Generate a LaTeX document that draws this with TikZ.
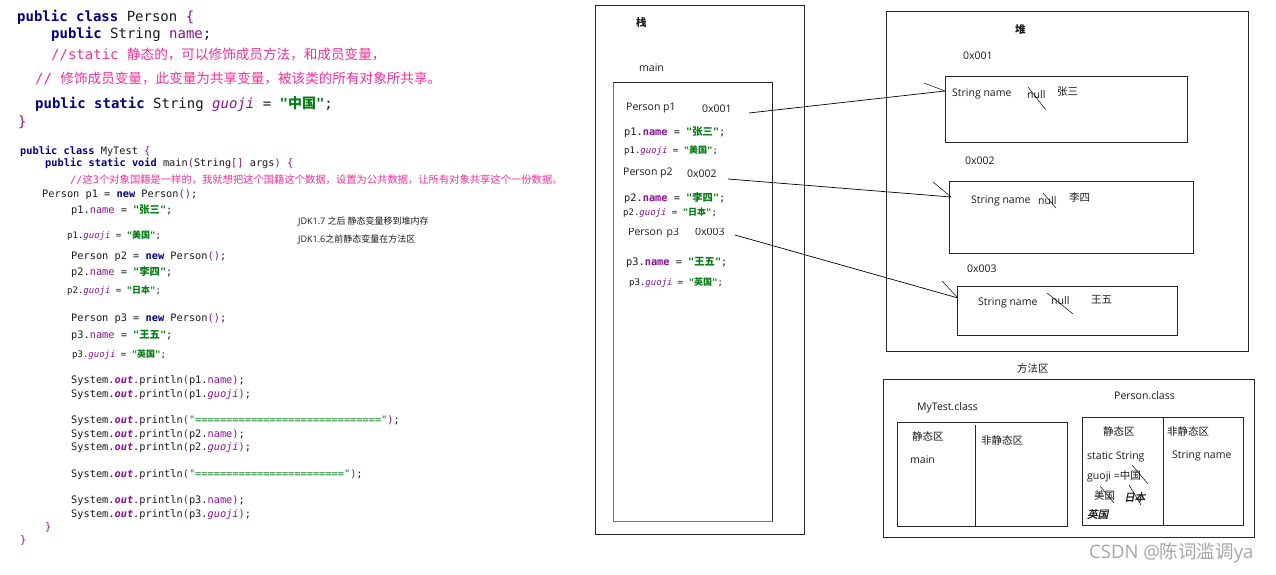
\documentclass[tikz,border=0pt]{standalone}
\usepackage{fontspec}
\setmainfont{Open Sans}
\newfontfamily\codefont{DejaVu Sans Mono}
\newfontfamily\cjk{Noto Sans CJK SC}
\newfontfamily\cjkbi[FakeSlant=0.2,FakeBold=1.5]{Noto Sans CJK SC}
\newfontfamily\lblfont{Open Sans}
\definecolor{kwc}{HTML}{000080}
\definecolor{fldc}{HTML}{871094}
\definecolor{strc}{HTML}{067D17}
\definecolor{cmc}{HTML}{F0309A}
\definecolor{txc}{HTML}{1A1A1A}
\newcommand\kw[1]{\textcolor{kwc}{\bfseries #1}}
\newcommand\fld[1]{\textcolor{fldc}{#1}}
\newcommand\sfld[1]{\textcolor{fldc}{\itshape #1}}
\newcommand\st[1]{\textcolor{strc}{\bfseries #1}}
\newcommand\pp[1]{\textcolor{fldc}{#1}}
\newcommand\zh[1]{{\cjk #1}}
\newcommand\cm[1]{\textcolor{cmc}{#1}}
\begin{document}
\begin{tikzpicture}[x=1pt,y=-1pt,
  every node/.style={anchor=west,inner sep=0pt,text=txc},
  codeA/.style={font=\codefont\fontsize{14}{16}\selectfont},
  codeB/.style={font=\codefont\fontsize{10.3}{12}\selectfont},
  codeS/.style={font=\codefont\fontsize{9}{11}\selectfont},
  lbl/.style={font=\lblfont\fontsize{10.5}{12}\selectfont},
  note/.style={font=\lblfont\fontsize{9}{11}\selectfont},
  box/.style={draw=black!85,line width=0.9pt},
  gbox/.style={draw=black!55,line width=0.9pt},
  wire/.style={draw=black,line width=0.7pt},
  strike/.style={draw=black,line width=0.5pt}]
\useasboundingbox (0,0) rectangle (1276,575);
\fill[white] (0,0) rectangle (1276,575);

% ---------- code block 1 ----------
\node[codeA] (n1) at (17,17) {\kw{public class} Person \pp{\{}};
\node[codeA] (n2) at (51,34) {\kw{public} String \fld{name};};
\node[codeA] (n3) at (51,54) {\cm{//static \zh{\fontsize{13.6}{16}\selectfont 静态的，可以修饰成员方法，和成员变量，}}};
\node[codeA] (n4) at (35,78) {\cm{// \zh{\fontsize{13.6}{16}\selectfont 修饰成员变量，此变量为共享变量，被该类的所有对象所共享。}}};
\node[codeA] (n5) at (35,104) {\kw{public static} String \sfld{guoji} = \st{"\zh{中国}"};};
\node[codeA] (n6) at (18,122) {\pp{\}}};

% ---------- code block 2 ----------
\node[codeB] (m1) at (20,151) {\kw{public class} MyTest \pp{\{}};
\node[codeB] (m2) at (45,163) {\kw{public static void} main\pp{(}String\pp{[]} args\pp{)} \pp{\{}};
\node[codeB] (m3) at (70,180) {\cm{//\zh{这}3\zh{个对象国籍是一样的，我就想把这个国籍这个数据，设置为公共数据，让所有对象共享这个一份数据。}}};
\node[codeB] (m4) at (42,195) {Person p1 = \kw{new} Person\pp{()};};
\node[codeB] (m5) at (71,210) {p1.\fld{name} = \st{"\zh{张三}"};};
\node[codeS] (m6) at (67,236) {p1.\sfld{guoji} = \st{"\zh{美国}"};};
\node[codeB] (m7) at (71,257) {Person p2 = \kw{new} Person\pp{()};};
\node[codeB] (m8) at (71,272) {p2.\fld{name} = \st{"\zh{李四}"};};
\node[codeS] (m9) at (67,291) {p2.\sfld{guoji} = \st{"\zh{日本}"};};
\node[codeB] (m10) at (71,319) {Person p3 = \kw{new} Person\pp{()};};
\node[codeB] (m11) at (71,335) {p3.\fld{name} = \st{"\zh{王五}"};};
\node[codeS] (m12) at (72,355) {p3.\sfld{guoji} = \st{"\zh{英国}"};};
\node[codeB] (m13) at (71,381) {System.\sfld{\bfseries out}.println\pp{(}p1.\fld{name}\pp{)};};
\node[codeB] (m14) at (71,395) {System.\sfld{\bfseries out}.println\pp{(}p1.\sfld{guoji}\pp{)};};
\node[codeB] (m15) at (71,421) {System.\sfld{\bfseries out}.println\pp{(}\textcolor{strc}{"=============================="}\pp{)};};
\node[codeB] (m16) at (71,435) {System.\sfld{\bfseries out}.println\pp{(}p2.\fld{name}\pp{)};};
\node[codeB] (m17) at (71,448) {System.\sfld{\bfseries out}.println\pp{(}p2.\sfld{guoji}\pp{)};};
\node[codeB] (m18) at (71,475) {System.\sfld{\bfseries out}.println\pp{(}\textcolor{strc}{"========================"}\pp{)};};
\node[codeB] (m19) at (71,501) {System.\sfld{\bfseries out}.println\pp{(}p3.\fld{name}\pp{)};};
\node[codeB] (m20) at (71,515) {System.\sfld{\bfseries out}.println\pp{(}p3.\sfld{guoji}\pp{)};};
\node[codeB] (m21) at (45,527) {\pp{\}}};
\node[codeB] (m22) at (20,540) {\pp{\}}};

\node[note] (j1) at (298,222) {JDK1.7 \zh{之后 静态变量移到堆内存}};
\node[note] (j2) at (298,240) {JDK1.6\zh{之前静态变量在方法区}};

% ---------- stack ----------
\draw[box] (595,5) rectangle (804,534);
\node[lbl] (stk) at (636,23) {\zh{\bfseries 栈}};
\node[lbl] (mainlbl) at (639,68) {main};
\draw[gbox] (613,82) rectangle (772,521);
\draw[box] (613,82) -- (772,82) -- (772,521);
\node[lbl] (s1) at (626,108) {Person p1};
\node[lbl] (a1) at (702,109) {0x001};
\node[codeB] (s2) at (624,132) {p1.\fld{\bfseries name} = \st{"\zh{张三}"};};
\node[codeS] (s3) at (624,151) {p1.\sfld{guoji} = \st{"\zh{美国}"};};
\node[lbl] (s4) at (623,173) {Person p2};
\node[lbl] (a2) at (687,174) {0x002};
\node[codeB] (s5) at (624,198) {p2.\fld{\bfseries name} = \st{"\zh{李四}"};};
\node[codeS] (s6) at (623,213) {p2.\sfld{guoji} = \st{"\zh{日本}"};};
\begin{scope}
\clip (615,228) rectangle (770,245);
\node[lbl] (s7) at (628,233) {Person\hspace{1.5pt} p3};
\node[lbl] (a3) at (695,232) {0x003};
\end{scope}
\node[codeB] (s8) at (626,262) {p3.\fld{\bfseries name} = \st{"\zh{王五}"};};
\node[codeS] (s9) at (629,283) {p3.\sfld{guoji} = \st{"\zh{英国}"};};

% ---------- heap ----------
\draw[box] (886,11) rectangle (1248,351);
\node[lbl] (heap) at (1015,30) {\zh{\bfseries 堆}};
\node[lbl] (h1a) at (963,56) {0x001};
\draw[box] (945,76) rectangle (1187,142);
\node[lbl] (h1n) at (952,94) {String name};
\node[lbl] (h1v) at (1027,95) {null};
\node[lbl] (h1z) at (1057,92) {\zh{张三}};
\node[lbl] (h2a) at (965,161) {0x002};
\draw[box] (949,181) rectangle (1193,253);
\node[lbl] (h2n) at (971,201) {String name};
\node[lbl] (h2v) at (1038,201) {null};
\node[lbl] (h2z) at (1069,197) {\zh{李四}};
\node[lbl] (h3a) at (967,269) {0x003};
\draw[box] (957,286) rectangle (1177,335);
\node[lbl] (h3n) at (978,303) {String name};
\node[lbl] (h3v) at (1051,301) {null};
\node[lbl] (h3z) at (1091,300) {\zh{王五}};
\draw[strike] (1028,87) -- (1046,110);
\draw[strike] (1043,193) -- (1056,208);
\draw[strike] (1047,293) -- (1073,314);

% ---------- references ----------
\coordinate (r1) at (749,113);
\coordinate (r2) at (728,179);
\coordinate (r3) at (735,235);
\coordinate (t1) at (945,91);
\coordinate (t2) at (951,197);
\coordinate (t3) at (958,298);
\coordinate (k1) at (924,83);
\coordinate (k2) at (933,182);
\coordinate (k3) at (942,281);
\draw[wire] (r1) -- (t1);
\draw[wire] (r2) -- (t2);
\draw[wire] (r3) -- (t3);
\draw[strike] (k1) -- (t1);
\draw[strike] (k2) -- (t2);
\draw[strike] (k3) -- (t3);

% ---------- method area ----------
\node[lbl] (ma) at (1017,368) {\zh{方法区}};
\draw[box] (883,379) rectangle (1254,537);
\node[lbl] (mtc) at (917,408) {MyTest.class};
\draw[box] (897,422) rectangle (1067,526);
\draw[box] (975,425) -- (975,526);
\node[lbl] (mts) at (912,436) {\zh{静态区}};
\node[lbl] (mtn) at (981,440) {\zh{非静态区}};
\node[lbl] (mtm) at (910,460) {main};
\node[lbl] (pc) at (1114,396) {Person.class};
\draw[box] (1082,417) rectangle (1243,525);
\draw[box] (1163,417) -- (1163,525);
\node[lbl] (pcs) at (1103,431) {\zh{静态区}};
\node[lbl] (pcn) at (1167,431) {\zh{非静态区}};
\node[lbl] (pcv1) at (1087,457) {static String};
\node[lbl] (pcv2) at (1087,476) {guoji =\zh{中国}};
\node[lbl] (pcm) at (1094,495) {\zh{美国}};
\node[lbl] (pcr) at (1124,497) {\cjkbi 日本};
\node[lbl] (pce) at (1087,514) {\cjkbi 英国};
\node[lbl] (pcsn) at (1172,456) {String name};
\draw[strike] (1132,465) -- (1148,484);
\draw[strike] (1100,486) -- (1114,503);
\draw[strike] (1129,485) -- (1141,505);

% ---------- watermark ----------
\node[font=\lblfont\fontsize{18.5}{20}\selectfont,text=black!35] (wm) at (1089,553) {CSDN @\zh{陈词滥调}ya};
\end{tikzpicture}
\end{document}
